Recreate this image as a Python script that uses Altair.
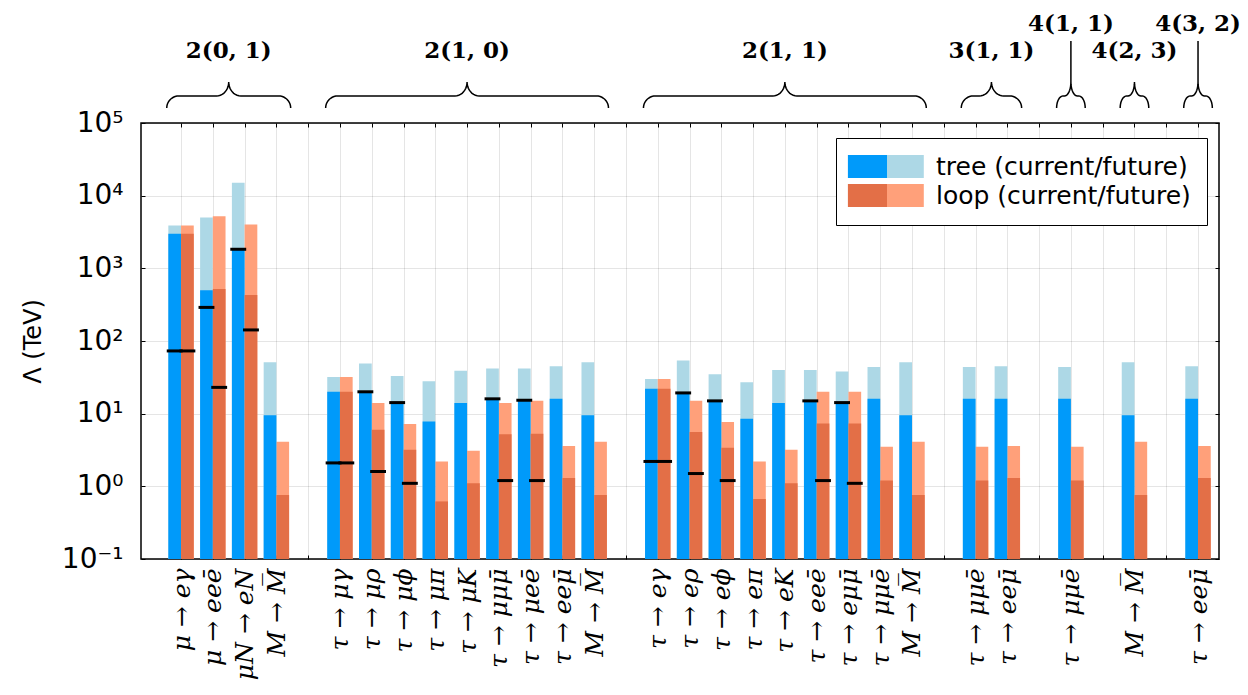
import json
import math
import altair as alt
import pandas as pd

# ---------------- data ----------------
positions = [1, 2, 3, 4, 6, 7, 8, 9, 10, 11, 12, 13, 14, 16, 17, 18, 19, 20, 21, 22, 23, 24, 26, 27, 29, 31, 33]
processes = ["μ → eγ", "μ → eeē", "μN → eN", "M → M̅",
             "τ → μγ", "τ → μρ", "τ → μϕ", "τ → μπ", "τ → μK", "τ → μμμ̄", "τ → μeē", "τ → eeμ̄", "M → M̅",
             "τ → eγ", "τ → eρ", "τ → eϕ", "τ → eπ", "τ → eK", "τ → eeē", "τ → eμμ̄", "τ → μμē", "M → M̅",
             "τ → μμē", "τ → eeμ̄", "τ → μμē", "M → M̅", "τ → eeμ̄"]
tree_current = [3000, 500, 1830, 9.5, 20, 20, 14.2, 7.8, 14, 16, 15.3, 16, 9.5,
                22, 19.3, 15, 8.5, 14, 15, 14.2, 16, 9.5, 16, 16, 16, 9.5, 16]
tree_future = [3900, 5000, 15000, 51, 32, 49, 33, 28, 39, 42, 42, 45, 51,
               30, 54, 35, 27, 40, 40, 38, 44, 51, 44, 45, 44, 51, 45]
loop_current = [3000, 520, 430, 0.76, 20, 6.0, 3.2, 0.62, 1.1, 5.2, 5.3, 1.3, 0.76,
                22, 5.6, 3.4, 0.67, 1.1, 7.3, 7.3, 1.2, 0.76, 1.2, 1.3, 1.2, 0.76, 1.3]
loop_future = [3900, 5200, 4000, 4.1, 32, 14, 7.2, 2.2, 3.1, 14, 15, 3.6, 4.1,
               30, 15, 7.7, 2.2, 3.2, 20, 20, 3.5, 4.1, 3.5, 3.6, 3.5, 4.1, 3.6]

marker_pos = [1, 1, 2, 2, 3, 3, 6, 6, 7, 7, 8, 8, 11, 11, 12, 12, 16, 16, 17, 17, 18, 18, 21, 21, 22, 22]
marker_type = ["tree", "loop"] * 13
marker_value = [73, 73, 290, 23, 1830, 142, 2.1, 2.1, 20, 1.6, 14.2, 1.1, 16, 1.2, 15.3, 1.2,
                2.2, 2.2, 19.3, 1.5, 15, 1.2, 15, 1.2, 14.2, 1.1]

group_names = ["2(0, 1)", "2(1, 0)", "2(1, 1)", "3(1, 1)", "4(1, 1)", "4(2, 3)", "4(3, 2)"]
group_first = [1, 6, 16, 26, 29, 31, 33]
group_last = [4, 14, 24, 27, 29, 31, 33]
group_raised = [False, False, False, False, True, False, True]

y_ticks = [0.1, 1, 10, 100, 1000, 10000, 100000]
y_tick_labels = ["10⁻¹", "10⁰", "10¹", "10²", "10³", "10⁴", "10⁵"]

legend_labels = {"tree": "tree (current/future)", "loop": "loop (current/future)"}
dark_colors = ["#009AFA", "#E36F47"]
light_colors = ["#ADD8E6", "#FFA07A"]

# ---------------- tables ----------------
rows = []
for p, name, tc, tf, lc, lf in zip(positions, processes, tree_current, tree_future, loop_current, loop_future):
    rows.append(dict(pos=p, process=name, type="tree", current=tc, future=tf))
    rows.append(dict(pos=p, process=name, type="loop", current=lc, future=lf))
bars = pd.DataFrame(rows)

markers = pd.DataFrame(dict(pos=marker_pos, type=marker_type, value=marker_value))

n_slots = max(positions)
slot_labels = [""] * (n_slots + 1)
for p, name in zip(positions, processes):
    slot_labels[p] = name

# brace decoration (shape built from group extents, drawn above the plot in log-y space)
E_BOT, E_MID, E_TOP = 5.206, 5.372, 5.564
E_LABEL_LOW, E_LABEL_HIGH, E_STEM = 5.99, 6.36, 6.13
brace_rows, stem_rows, label_rows = [], [], []
for g, (name, a, b, raised) in enumerate(zip(group_names, group_first, group_last, group_raised)):
    x0, x1 = a - 0.45, b + 0.45
    xm = (x0 + x1) / 2
    r = min(0.38, (xm - x0) * 0.45)
    pts = []
    steps = 10
    for k in range(steps + 1):
        t = (math.pi / 2) * k / steps
        pts.append((x0 + r * (1 - math.cos(t)), E_BOT + (E_MID - E_BOT) * math.sin(t)))
    for k in range(steps + 1):
        t = (math.pi / 2) * k / steps
        pts.append((xm - r + r * math.sin(t), E_MID + (E_TOP - E_MID) * (1 - math.cos(t))))
    mirrored = [(2 * xm - x, e) for x, e in reversed(pts)]
    pts = pts + mirrored
    for i, (x, e) in enumerate(pts):
        brace_rows.append(dict(group=name, i=i, bx=x, by=10 ** e))
    ly = E_LABEL_HIGH if raised else E_LABEL_LOW
    label_rows.append(dict(group=name, gx=xm, gy=10 ** ly))
    if raised:
        stem_rows.append(dict(group=name, sx=xm, s0=10 ** E_TOP, s1=10 ** E_STEM))
braces = pd.DataFrame(brace_rows)
stems = pd.DataFrame(stem_rows)
glabels = pd.DataFrame(label_rows)

# ---------------- scales / axes ----------------
xs = alt.Scale(domain=[-0.26, 33.66], nice=False, zero=False)
ys = alt.Scale(type="log", domain=[0.1, 100000], nice=False)

bottom_axis = alt.Axis(
    orient="bottom", values=list(range(1, n_slots + 1)),
    labelExpr=json.dumps(slot_labels, ensure_ascii=False) + "[datum.value]",
    labelAngle=270, labelFont="DejaVu Serif", labelFontStyle="italic", labelFontSize=25,
    labelColor="black", labelPadding=9, labelOverlap=False, labelFlush=False, labelLimit=400,
    tickSize=4, tickColor="black", tickWidth=1, offset=-4, domain=False,
    grid=True, gridColor="black", gridOpacity=0.1, gridWidth=1, title=None)
top_axis = alt.Axis(
    orient="top", values=list(range(1, n_slots + 1)), labels=False, tickSize=4,
    tickColor="black", tickWidth=1, offset=-4, domain=False, grid=False, title=None)
left_axis = alt.Axis(
    orient="left", values=y_ticks,
    labelExpr=json.dumps(y_tick_labels, ensure_ascii=False) + "[round(log(datum.value)/LN10)+1]",
    labelFont="DejaVu Sans", labelFontSize=28, labelColor="black", labelPadding=18,
    labelOverlap=False, labelFlush=False,
    tickSize=4, tickColor="black", tickWidth=1, offset=-4, domain=False,
    grid=True, gridColor="black", gridOpacity=0.1, gridWidth=1,
    title="Λ (TeV)", titleFont="DejaVu Sans", titleFontSize=24, titleFontWeight="normal",
    titleColor="black", titlePadding=16)
right_axis = alt.Axis(
    orient="right", values=y_ticks, labels=False, tickSize=4, tickColor="black",
    tickWidth=1, offset=-4, domain=False, grid=False, title=None)

legend_current = alt.Legend(
    orient="none", legendX=695, legendY=15, padding=16, symbolSize=529, symbolOffset=22.5,
    symbolStrokeWidth=0, symbolOpacity=1, labelOffset=36.5, labelFontSize=25, labelLimit=400,
    labelFont="DejaVu Sans", labelColor="black", rowPadding=3, title=None, direction="vertical",
    labelExpr=json.dumps(legend_labels, ensure_ascii=False) + "[datum.value]",
    symbolType="M-3.4,-1H0V1H-3.4Z", strokeColor="black", fillColor="white", zindex=1)
legend_future = alt.Legend(
    orient="none", legendX=695, legendY=15, padding=16, symbolSize=529, symbolOffset=22.5,
    symbolStrokeWidth=0, symbolOpacity=1, labelOffset=36.5, labelFontSize=25,
    labelFont="DejaVu Sans", labelColor="black", rowPadding=3, title=None, direction="vertical",
    labelExpr="''", symbolType="M0,-1H3.2V1H0Z", zindex=2)

bar_base = alt.Chart(bars).transform_calculate(
    xa="datum.pos + (datum.type == 'tree' ? -0.4 : 0)",
    xb="datum.pos + (datum.type == 'tree' ? 0 : 0.4)",
)

future_bars = bar_base.mark_bar().encode(
    x=alt.X("xa:Q", scale=xs, axis=bottom_axis),
    x2="xb:Q",
    y=alt.Y("future:Q", scale=ys, axis=left_axis),
    y2=alt.datum(0.1),
    color=alt.Color("type:N", scale=alt.Scale(domain=["tree", "loop"], range=light_colors),
                    legend=legend_future),
)
current_bars = bar_base.mark_bar().encode(
    x=alt.X("xa:Q", scale=xs, axis=None),
    x2="xb:Q",
    y=alt.Y("current:Q", scale=ys, axis=None),
    y2=alt.datum(0.1),
    color=alt.Color("type:N", scale=alt.Scale(domain=["tree", "loop"], range=dark_colors),
                    legend=legend_current),
)

marker_layer = alt.Chart(markers).transform_calculate(
    ma="datum.pos + (datum.type == 'tree' ? -0.45 : -0.05)",
    mb="datum.pos + (datum.type == 'tree' ? 0.05 : 0.45)",
).mark_rule(color="black", strokeWidth=3).encode(
    x=alt.X("ma:Q", scale=xs, axis=None),
    x2="mb:Q",
    y=alt.Y("value:Q", scale=ys, axis=None),
)

brace_layer = alt.Chart(braces).mark_line(color="black", strokeWidth=1.5).encode(
    x=alt.X("bx:Q", scale=xs, axis=top_axis),
    y=alt.Y("by:Q", scale=ys, axis=None),
    detail="group:N",
    order="i:Q",
)

stem_layer = alt.Chart(stems).mark_rule(color="black", strokeWidth=1.5).encode(
    x=alt.X("sx:Q", scale=xs, axis=None),
    y=alt.Y("s0:Q", scale=ys, axis=None),
    y2="s1:Q",
)

label_layer = alt.Chart(glabels).mark_text(
    font="DejaVu Serif", fontWeight="bold", fontSize=23, baseline="middle", align="center",
    color="black",
).encode(
    x=alt.X("gx:Q", scale=xs, axis=None),
    y=alt.Y("gy:Q", scale=ys, axis=right_axis),
    text="group:N",
)

chart = alt.layer(
    future_bars, current_bars, marker_layer, brace_layer, stem_layer, label_layer
).resolve_scale(color="independent").properties(
    width=1078, height=436,
    padding={"left": 133, "top": 115, "right": 21, "bottom": 128},
    autosize=alt.AutoSizeParams(type="none"),
).configure_view(stroke="black", strokeWidth=1.5)

chart.save("out.html", embed_options={"renderer": "svg", "actions": False})
